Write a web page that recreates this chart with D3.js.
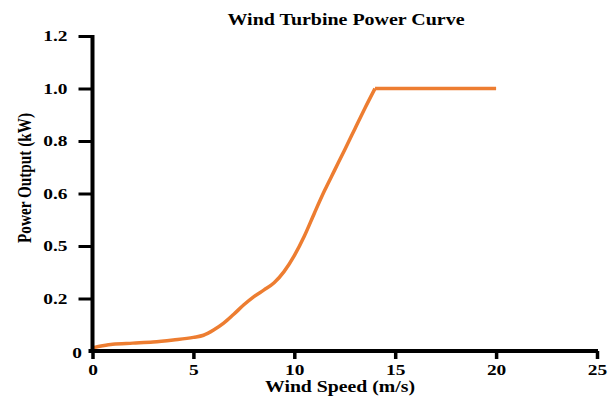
<!DOCTYPE html>
<html>
<head>
<meta charset="utf-8">
<script src="https://cdn.jsdelivr.net/npm/d3@7"></script>
<style>
  html, body { margin: 0; padding: 0; background: #fff; }
  svg { display: block; }
  svg text { font-family: "Liberation Serif", Tinos, "Times New Roman", Times, serif; }
</style>
</head>
<body>
<svg id="chart" width="615" height="399"></svg>
<script>
// ---- data ----
const windSpeed = [0, 0.5, 1, 2, 3, 4, 5, 5.5, 6, 6.5, 7, 7.5, 8, 8.5, 9, 9.5, 10, 10.5, 11, 11.5, 12, 12.5, 13, 13.5, 14, 20];
const powerOutput = [0.012, 0.02, 0.026, 0.03, 0.034, 0.042, 0.052, 0.06, 0.08, 0.106, 0.14, 0.176, 0.211, 0.249, 0.29, 0.355, 0.445, 0.519, 0.563, 0.611, 0.689, 0.767, 0.846, 0.925, 1.0, 1.0];
const xTicks = [0, 5, 10, 15, 20, 25];
const yTicks = [0, 0.2, 0.5, 0.6, 0.8, 1.0, 1.2];
const yTickLabels = ["0", "0.2", "0.5", "0.6", "0.8", "1.0", "1.2"];
const chartTitle = "Wind Turbine Power Curve";
const xTitle = "Wind Speed (m/s)";
const yTitle = "Power Output (kW)";

// ---- layout ----
const FONT = '"Liberation Serif", Tinos, "Times New Roman", Times, serif';
const STRETCH = 1.25; // reference text is horizontally stretched
const svg = d3.select("#chart");
const mLeft = 92.5, mRight = 597, mTop = 36, mBottom = 351;

const x = d3.scaleLinear().domain([0, 25]).range([mLeft, mRight]);
// tick labels sit at evenly spaced positions in the original (non-uniform value axis)
const yRange = yTicks.map((d, i) => mBottom - i * (mBottom - mTop) / (yTicks.length - 1));
const y = d3.scaleLinear().domain(yTicks).range(yRange);

// line
const line = d3.line()
  .x(i => x(windSpeed[i]))
  .y(i => y(powerOutput[i]))
  .curve(d3.curveMonotoneX);

const rising = d3.range(windSpeed.length - 1);
svg.append("path")
  .datum(rising)
  .attr("fill", "none")
  .attr("stroke", "#ED7D31")
  .attr("stroke-width", 3.5)
  .attr("stroke-linejoin", "round")
  .attr("d", line);
svg.append("path")
  .datum([windSpeed.length - 2, windSpeed.length - 1])
  .attr("fill", "none")
  .attr("stroke", "#ED7D31")
  .attr("stroke-width", 3.5)
  .attr("d", d3.line().x(i => x(windSpeed[i])).y(i => y(powerOutput[i])));

// axes
const xAxis = d3.axisBottom(x).tickValues(xTicks).tickSize(8).tickPadding(5).tickSizeOuter(0);
const gx = svg.append("g").attr("transform", `translate(0,${mBottom})`).call(xAxis);
gx.attr("font-family", FONT);
gx.select(".domain").attr("stroke", "#000").attr("stroke-width", 4)
  .attr("d", `M${mLeft - 4},0H${mRight + 1}`);
gx.selectAll(".tick line").attr("stroke", "#000").attr("stroke-width", 3.5);
gx.selectAll(".tick text")
  .attr("font-weight", "bold").attr("font-size", 15.5).attr("fill", "#000")
  .attr("transform", `scale(${STRETCH},1)`);

const yAxis = d3.axisLeft(y).tickValues(yTicks)
  .tickFormat((d, i) => yTickLabels[i]).tickSize(14).tickPadding(10).tickSizeOuter(0);
const gy = svg.append("g").attr("transform", `translate(${mLeft},0)`).call(yAxis);
gy.attr("font-family", FONT);
gy.select(".domain").attr("stroke", "#000").attr("stroke-width", 4)
  .attr("d", `M0,${mTop - 1}V${mBottom}`);
gy.selectAll(".tick line").attr("stroke", "#000").attr("stroke-width", 3);
gy.selectAll(".tick text")
  .attr("font-weight", "bold").attr("font-size", 15.5).attr("fill", "#000")
  .attr("x", 0)
  .attr("transform", d => d === 0 ? `translate(-10.5,2) scale(${STRETCH},1)` : `translate(-25,0) scale(${STRETCH},1)`);
gy.selectAll(".tick").filter(d => d === 0).select("line").remove();

// titles
svg.append("text")
  .attr("x", 346).attr("y", 25)
  .attr("text-anchor", "middle")
  .attr("font-weight", "bold").attr("font-size", 16.5)
  .attr("textLength", 237).attr("lengthAdjust", "spacingAndGlyphs")
  .text(chartTitle);

svg.append("text")
  .attr("x", 340).attr("y", 392)
  .attr("text-anchor", "middle")
  .attr("font-weight", "bold").attr("font-size", 16.5)
  .attr("textLength", 150).attr("lengthAdjust", "spacingAndGlyphs")
  .text(xTitle);

svg.append("text")
  .attr("transform", `translate(31,178) scale(1.2,1) rotate(-90)`)
  .attr("text-anchor", "middle")
  .attr("font-weight", "bold").attr("font-size", 15)
  .attr("textLength", 130).attr("lengthAdjust", "spacingAndGlyphs")
  .text(yTitle);
</script>
</body>
</html>
